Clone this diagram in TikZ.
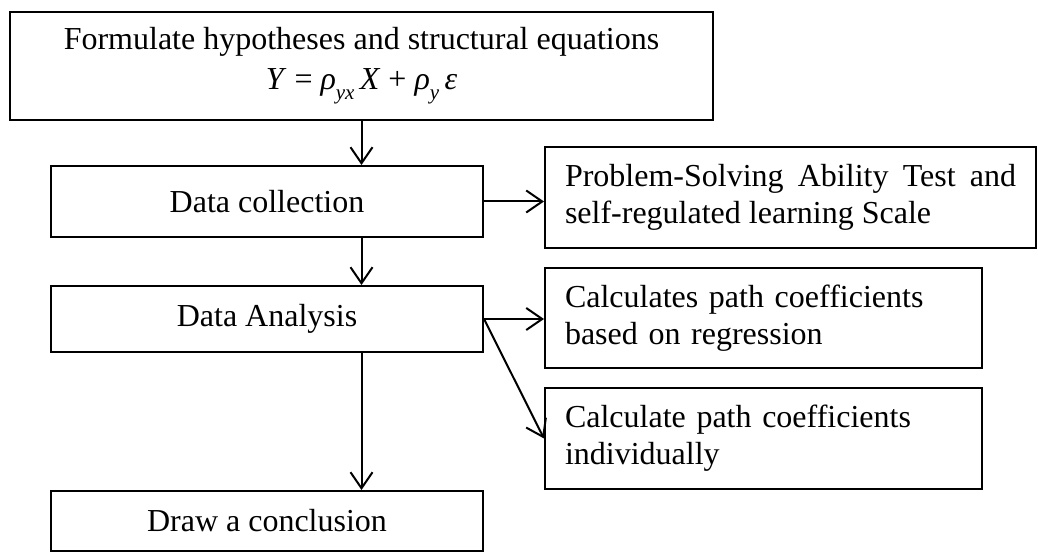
\documentclass[tikz,border=0pt]{standalone}
\usepackage{fontspec}
\setmainfont{Liberation Serif}
\usepackage{tikz}
\usetikzlibrary{arrows.meta}
\tikzset{
  flowarrow/.style={-{Straight Barb[length=16pt,width=22pt]}, line width=2pt,
    draw=black},
  flowbox/.style={draw=black, line width=2pt, align=center, inner sep=0pt,
    font=\fontsize{32}{40}\selectfont},
  sidebox/.style={draw=black, line width=2pt, inner xsep=20pt, inner ysep=0pt,
    minimum height=100pt, font=\fontsize{32}{37}\selectfont}
}
\newcommand{\subvar}[1]{\raisebox{-10pt}{\fontsize{21}{21}\selectfont\itshape #1}}

\begin{document}
\begin{tikzpicture}[x=1pt,y=1pt]
  \useasboundingbox (0,0) rectangle (1038,555);

  \node[flowbox, minimum width=703pt, minimum height=108pt] (hypo) at (361.5,489)
    {Formulate hypotheses and structural equations\\
     \textit{Y} = \textit{ρ}\subvar{yx}\,\textit{X} + \textit{ρ}\subvar{y}\,\textit{ε}};
  \node[flowbox, minimum width=432pt, minimum height=71pt] (collect) at (267,353.5)
    {Data collection};
  \node[flowbox, minimum width=432pt, minimum height=66pt] (analysis) at (267,236)
    {Data Analysis};
  \node[flowbox, minimum width=432pt, minimum height=60pt] (concl) at (267,34)
    {Draw a conclusion};

  \node[sidebox, text width=451pt, align=justify, minimum height=101pt] (instr)
    at (790.5,357.5)
    {Problem-Solving Ability Test and\linebreak self-regulated learning Scale};
  \node[sidebox, text width=397pt, align=left] (regress) at (763.5,237)
    {Calculates path coefficients\\based on regression};
  \node[sidebox, text width=397pt, align=left, minimum height=101pt] (indiv)
    at (763.5,116.5)
    {Calculate path coefficients\\individually};

  \draw[flowarrow] (hypo.south) -- (hypo.south |- collect.north);
  \draw[flowarrow] (hypo.south |- collect.south) -- (hypo.south |- analysis.north);
  \draw[flowarrow] (hypo.south |- analysis.south) -- (hypo.south |- concl.north);
  \draw[flowarrow] (collect.east) -- (collect.east -| instr.west);
  \draw[flowarrow] (analysis.east) -- (analysis.east -| regress.west);
  \draw[flowarrow] (analysis.east) -- (indiv.west);
\end{tikzpicture}
\end{document}
